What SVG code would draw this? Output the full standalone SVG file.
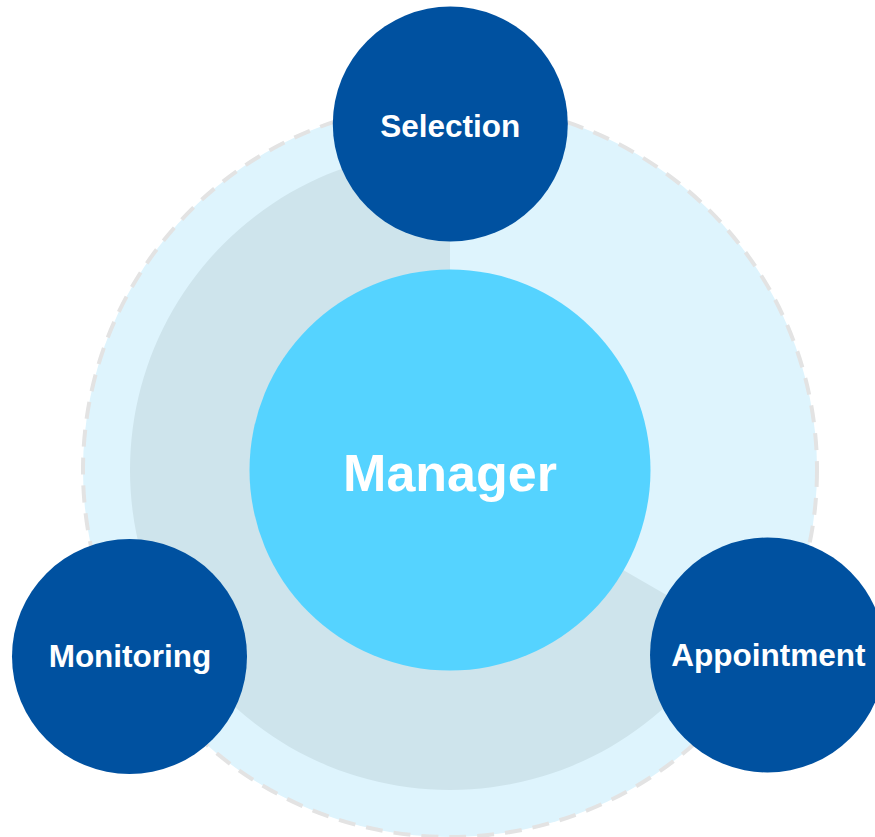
<svg xmlns="http://www.w3.org/2000/svg" width="875" height="837" viewBox="0 0 875 837">
  <style>
    .outer { fill: #DEF4FD; stroke: #E3E3E3; stroke-width: 4; stroke-dasharray: 17 11; }
    .sector { fill: #CEE4EC; }
    .core { fill: #55D3FF; }
    .node { fill: #0051A0; }
    .label { font-family: "Liberation Sans", Arial, sans-serif; font-weight: bold; fill: #FFFFFF; text-anchor: middle; }
    .small { font-size: 31.5px; }
    .big { font-size: 52px; }
  </style>
  <rect width="875" height="837" fill="#FFFFFF"/>
  <g id="background">
    <circle class="outer" cx="450" cy="470" r="367"/>
    <path class="sector" d="M450,470 L450,150 A320,320 0 1 0 727.13,630 Z"/>
  </g>
  <g id="connectors"></g>
  <g id="manager">
    <circle class="core" cx="450" cy="470" r="200.5"/>
    <text class="label big" x="450" y="491">Manager</text>
  </g>
  <g id="selection">
    <circle class="node" cx="450.3" cy="124" r="117.5"/>
    <text class="label small" x="450.3" y="136.5">Selection</text>
  </g>
  <g id="monitoring">
    <circle class="node" cx="129.5" cy="656.5" r="117.5"/>
    <text class="label small" x="130" y="667.3">Monitoring</text>
  </g>
  <g id="appointment">
    <circle class="node" cx="767.5" cy="655" r="117.5"/>
    <text class="label small" x="768.3" y="665.7">Appointment</text>
  </g>
</svg>
